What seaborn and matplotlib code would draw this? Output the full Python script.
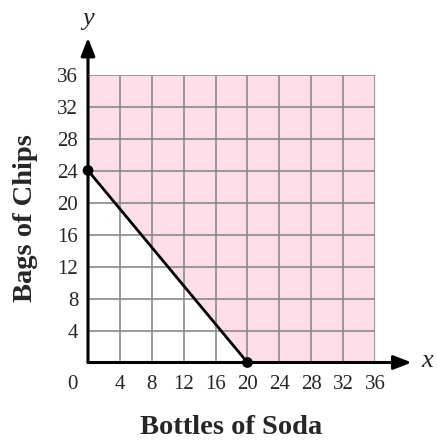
import matplotlib
matplotlib.use("Agg")
import matplotlib.pyplot as plt
import numpy as np
import pandas as pd
import seaborn as sns

# boundary of the inequality, drawn through its two intercepts
soda = [0, 20]
chips = [24, 0]
x_ticks = [4, 8, 12, 16, 20, 24, 28, 32, 36]
y_ticks = [4, 8, 12, 16, 20, 24, 28, 32, 36]
x_max = 36
y_max = 36

PINK = "#fcdde8"
GRID = "#8a8a8a"
SERIF = ["Liberation Serif", "DejaVu Serif"]

sns.set_theme(style="white")
plt.rcParams["font.family"] = SERIF

fig = plt.figure(figsize=(4.39, 4.43), dpi=100)
ax = fig.add_axes([88 / 439, (443 - 362.5) / 443, 287 / 439, 288 / 443])

# shaded solution region above the boundary
fill_x = soda + [x_max]
fill_y = chips + [0]
ax.fill_between(fill_x, fill_y, y_max, color=PINK, lw=0, zorder=0)

for v in x_ticks:
    ax.plot([v, v], [0, y_max], color=GRID, lw=1.2, zorder=1,
            solid_capstyle="butt")
for v in y_ticks:
    ax.plot([0, x_max], [v, v], color=GRID, lw=1.2, zorder=1,
            solid_capstyle="butt")

df = pd.DataFrame({"soda": soda, "chips": chips})
sns.lineplot(data=df, x="soda", y="chips", color="black", lw=2.0, ax=ax, zorder=3)
sns.scatterplot(data=df, x="soda", y="chips", color="black", s=60, ax=ax,
                zorder=5, clip_on=False, edgecolor="none")

# limits after seaborn, which autoscales
ax.set_xlim(0, x_max)
ax.set_ylim(0, y_max)

# axes with arrows
arrow = dict(arrowstyle="-|>,head_length=0.9,head_width=0.35", color="black",
             lw=2.2, shrinkA=0, shrinkB=0)
ax.annotate("", xy=(40.6, 0), xytext=(0, 0), arrowprops=arrow,
            annotation_clip=False, zorder=4)
ax.annotate("", xy=(0, 40.6), xytext=(0, 0), arrowprops=arrow,
            annotation_clip=False, zorder=4)
ax.text(41.8, 0.2, "x", fontsize=19, style="italic", ha="left", va="center")
ax.text(0, 41.6, "y", fontsize=19, style="italic", ha="center", va="bottom")

for s in ax.spines.values():
    s.set_visible(False)
ax.set_xticks(x_ticks)
ax.set_yticks(y_ticks)
ax.set_xticklabels([str(t) for t in x_ticks], fontsize=15)
ax.set_yticklabels([str(t) for t in y_ticks], fontsize=15)
ax.tick_params(which="both", length=0, width=0)
ax.tick_params(axis="x", pad=9)
ax.tick_params(axis="y", pad=7)
ax.text(-1.9, -2.7, "0", fontsize=15, ha="center", va="center")

ax.set_xlabel("Bottles of Soda", fontsize=20.5, fontweight="bold", labelpad=15)
ax.set_ylabel("Bags of Chips", fontsize=20.5, fontweight="bold", labelpad=14)
ax.grid(False)

plt.savefig("out.png", dpi=100)
plt.close(fig)
